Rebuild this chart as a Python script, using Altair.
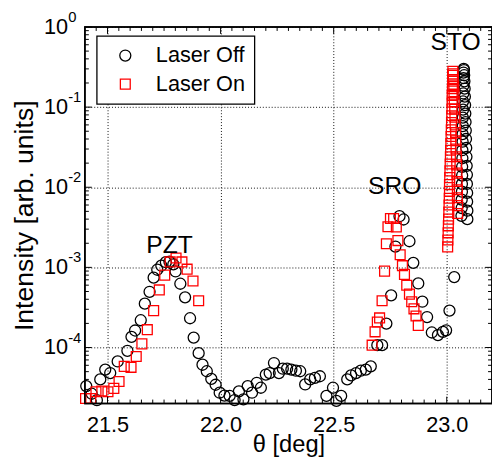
import altair as alt
import pandas as pd

FONT = "Liberation Sans"

# ---------------- data ----------------
off_theta = [21.406, 21.430, 21.453, 21.468, 21.490, 21.512, 21.545, 21.588, 21.606, 21.622,
             21.647, 21.665, 21.686, 21.704, 21.720, 21.738, 21.758, 21.774, 21.791, 21.801,
             21.822, 21.843, 21.865, 21.881, 21.903, 21.920, 21.939, 21.959, 21.978, 21.996,
             22.017, 22.040, 22.062, 22.081, 22.101, 22.120, 22.139, 22.160, 22.178, 22.200,
             22.217, 22.236, 22.258, 22.275, 22.294, 22.313, 22.333, 22.352, 22.374, 22.396,
             22.417, 22.439, 22.468, 22.497, 22.512, 22.533, 22.560, 22.577, 22.599, 22.620,
             22.642, 22.664, 22.693, 22.714, 22.733, 22.754, 22.773, 22.791, 22.809, 22.835,
             22.852, 22.874, 22.892, 22.913, 22.934, 22.961, 22.983, 22.997, 23.012, 23.033,
             23.065, 23.066, 23.066, 23.067, 23.067, 23.068, 23.068, 23.069, 23.069, 23.070,
             23.070, 23.071, 23.071, 23.072, 23.072, 23.073, 23.073, 23.074, 23.074, 23.075,
             23.076, 23.077, 23.078, 23.079, 23.080, 23.081, 23.082, 23.083, 23.084, 23.085,
             23.086, 23.087, 23.088, 23.089, 23.089, 23.090, 23.090, 23.091, 23.091]
off_int = [3.3e-5, 2.65e-5, 2.2e-5, 4.0e-5, 5.3e-5, 4.8e-5, 6.7e-5, 9.1e-5, 1.36e-4, 1.63e-4,
           2.19e-4, 3.53e-4, 4.96e-4, 7.45e-4, 9.35e-4, 1.05e-3, 1.16e-3, 1.18e-3, 1.09e-3, 8.9e-4,
           6.25e-4, 4.23e-4, 2.32e-4, 1.33e-4, 8.5e-5, 6.1e-5, 5.06e-5, 4.06e-5, 3.43e-5, 2.73e-5,
           2.51e-5, 2.49e-5, 2.21e-5, 2.84e-5, 2.26e-5, 3.3e-5, 2.73e-5, 3.63e-5, 3.15e-5, 4.59e-5,
           4.8e-5, 6.4e-5, 4.8e-5, 5.44e-5, 5.44e-5, 5.3e-5, 5.14e-5, 5.06e-5, 3.46e-5, 4.0e-5,
           4.18e-5, 4.38e-5, 2.49e-5, 3.15e-5, 2.16e-5, 2.49e-5, 4.0e-5, 4.49e-5, 4.8e-5, 5.14e-5,
           5.3e-5, 5.82e-5, 1.07e-4, 1.07e-4, 1.99e-4, 4.48e-4, 1.82e-3, 4.35e-3, 3.96e-3, 2.12e-3,
           1.14e-3, 6.3e-4, 3.73e-4, 2.40e-4, 1.54e-4, 1.43e-4, 1.57e-4, 1.64e-4, 2.89e-4, 7.57e-4,
           4.4e-3, 5.5e-3, 7.0e-3, 8.8e-3, 1.1e-2, 1.4e-2, 1.8e-2, 2.3e-2, 2.9e-2, 3.7e-2,
           4.6e-2, 5.8e-2, 7.4e-2, 9.3e-2, 0.118, 0.148, 0.185, 0.23, 0.27, 0.30,
           0.29, 0.25, 0.21, 0.17, 0.135, 0.106, 0.083, 0.065, 0.051, 0.040,
           0.031, 0.024, 0.0185, 0.0143, 0.0110, 0.0085, 0.0066, 0.0051, 0.0040]

on_theta = [21.403, 21.426, 21.449, 21.475, 21.502, 21.528, 21.551, 21.574, 21.604, 21.627,
            21.652, 21.676, 21.704, 21.729, 21.753, 21.777, 21.803, 21.829, 21.852, 21.878,
            21.903,
            22.670, 22.683, 22.693, 22.703, 22.714, 22.725, 22.733, 22.740, 22.751, 22.765,
            22.777, 22.784, 22.794, 22.804, 22.813, 22.823, 22.835, 22.845, 22.855, 22.864,
            22.874,
            23.004, 23.005, 23.006, 23.007, 23.008, 23.009, 23.010, 23.011, 23.012, 23.012,
            23.013, 23.014, 23.015, 23.016, 23.017, 23.018, 23.019, 23.020, 23.021, 23.022,
            23.023, 23.024, 23.024, 23.025, 23.026, 23.026, 23.027,
            23.028, 23.029, 23.031, 23.032, 23.033, 23.035, 23.036, 23.037, 23.039, 23.040,
            23.041, 23.043, 23.044, 23.045, 23.046, 23.047, 23.047, 23.048, 23.048]
on_int = [2.31e-5, 2.31e-5, 2.81e-5, 2.87e-5, 2.81e-5, 3.09e-5, 3.77e-5, 5.82e-5, 5.66e-5, 7.73e-5,
          1.11e-4, 1.67e-4, 2.89e-4, 5.23e-4, 8.0e-4, 1.17e-3, 1.31e-3, 1.17e-3, 9.5e-4, 6.76e-4,
          3.84e-4,
          1.07e-4, 1.57e-4, 2.08e-4, 2.34e-4, 3.84e-4, 8.98e-4, 1.97e-3, 3.21e-3, 4.07e-3, 4.07e-3,
          3.19e-3, 2.16e-3, 1.44e-3, 1.05e-3, 8.18e-4, 5.99e-4, 4.64e-4, 3.73e-4, 3.04e-4, 2.47e-4,
          1.89e-4,
          1.8e-3, 2.2e-3, 2.7e-3, 3.3e-3, 4.0e-3, 4.9e-3, 6.0e-3, 7.3e-3, 8.9e-3, 1.08e-2,
          1.32e-2, 1.6e-2, 1.95e-2, 2.4e-2, 2.9e-2, 3.5e-2, 4.3e-2, 5.2e-2, 6.4e-2, 7.8e-2,
          9.5e-2, 0.115, 0.14, 0.17, 0.21, 0.25, 0.28,
          0.26, 0.22, 0.18, 0.145, 0.117, 0.094, 0.075, 0.060, 0.048, 0.038,
          0.030, 0.024, 0.019, 0.015, 0.0118, 0.0093, 0.0074, 0.0059, 0.0047]

series_names = ["Laser Off", "Laser On"]

# axis ticks / labels
x_major = [21.5, 22.0, 22.5, 23.0]
x_minor = [v for v in [round(21.45 + 0.05 * i, 2) for i in range(35)] if v not in x_major]
y_major = [1e-4, 1e-3, 1e-2, 1e-1, 1.0]
y_exp = ["-4", "-3", "-2", "-1", "0"]
y_minor = [m * 10.0 ** e for e in range(-5, 0) for m in range(2, 10)]

# peak annotations
ann_label = ["PZT", "SRO", "STO"]
ann_theta = [21.774, 22.770, 23.039]
ann_int = [1.9e-3, 1.02e-2, 0.65]

# ---------------- chart ----------------
W, H = 413, 382
xs = alt.Scale(domain=[21.4, 23.2], nice=False, zero=False)
ys = alt.Scale(type="log", domain=[2e-5, 1.0], nice=False)

xaxis = alt.Axis(values=x_major, format=".1f", title="θ [deg]", grid=True,
                 ticks=False, domain=False, labelFontSize=22, labelPadding=11,
                 titleFontSize=24, titleY=54, titleBaseline="bottom", labelFlush=False)
yaxis = alt.Axis(values=y_major, labels=False, ticks=False, domain=False, grid=True,
                 title="Intensity [arb. units]", titleFontSize=27,
                 titleX=-61, titleY=H / 2, titleAngle=270,
                 titleAlign="center", titleBaseline="middle")

df = pd.DataFrame({
    "theta": off_theta + on_theta,
    "intensity": off_int + on_int,
    "series": [series_names[0]] * len(off_theta) + [series_names[1]] * len(on_theta),
})

# frame of the plot area
frame = alt.Chart(pd.DataFrame({"theta": [21.4]})).mark_rect(
    filled=False, stroke="black", strokeWidth=1.6, fill=None).encode(
    x=alt.value(0), x2=alt.value(W), y=alt.value(0), y2=alt.value(H))

grid_src = alt.Chart(pd.DataFrame({"theta": x_major[:1], "intensity": y_major[:1]})).mark_point(
    opacity=0).encode(
    x=alt.X("theta:Q", scale=xs, axis=xaxis),
    y=alt.Y("intensity:Q", scale=ys, axis=yaxis))

points = alt.Chart(df).mark_point(filled=False, strokeWidth=1.3, opacity=1).encode(
    x=alt.X("theta:Q", scale=xs, axis=xaxis),
    y=alt.Y("intensity:Q", scale=ys, axis=yaxis),
    color=alt.Color("series:N", scale=alt.Scale(domain=series_names, range=["black", "red"]),
                    legend=alt.Legend(title=None)),
    shape=alt.Shape("series:N", scale=alt.Scale(domain=series_names, range=["circle", "square"]),
                    legend=alt.Legend(title=None)),
    size=alt.Size("series:N", scale=alt.Scale(domain=series_names, range=[125, 100]),
                  legend=alt.Legend(title=None)),
)

def xtick_layer(vals, length, top):
    d = pd.DataFrame({"theta": vals})
    enc = dict(x=alt.X("theta:Q", scale=xs, axis=xaxis))
    if top:
        enc.update(y=alt.value(0), y2=alt.value(length))
    else:
        enc.update(y=alt.value(H), y2=alt.value(H - length))
    return alt.Chart(d).mark_rule(color="black", strokeWidth=1).encode(**enc)

def ytick_layer(vals, length, right):
    d = pd.DataFrame({"intensity": vals})
    enc = dict(y=alt.Y("intensity:Q", scale=ys, axis=yaxis))
    if right:
        enc.update(x=alt.value(W), x2=alt.value(W - length))
    else:
        enc.update(x=alt.value(0), x2=alt.value(length))
    return alt.Chart(d).mark_rule(color="black", strokeWidth=1).encode(**enc)

ticks = [
    xtick_layer(x_major, 7, False), xtick_layer(x_minor, 4, False),
    xtick_layer(x_major, 7, True), xtick_layer(x_minor, 4, True),
    ytick_layer(y_major, 7, False), ytick_layer(y_minor, 4, False),
    ytick_layer(y_major, 7, True), ytick_layer(y_minor, 4, True),
]

ylab_df = pd.DataFrame({"intensity": y_major, "exp": y_exp})
ylab10 = alt.Chart(ylab_df).mark_text(text="10", align="right", baseline="middle",
                                      fontSize=22, font=FONT, color="black").encode(
    y=alt.Y("intensity:Q", scale=ys, axis=yaxis), x=alt.value(-17))
ylabexp = alt.Chart(ylab_df).mark_text(align="left", baseline="middle", fontSize=15,
                                       font=FONT, color="black", dy=-10).encode(
    y=alt.Y("intensity:Q", scale=ys, axis=yaxis), x=alt.value(-17), text="exp:N")

ann_df = pd.DataFrame({"theta": ann_theta, "intensity": ann_int, "label": ann_label})
ann = alt.Chart(ann_df).mark_text(fontSize=25, font=FONT, color="black",
                                  align="center", baseline="middle").encode(
    x=alt.X("theta:Q", scale=xs, axis=xaxis),
    y=alt.Y("intensity:Q", scale=ys, axis=yaxis),
    text="label:N")

chart = alt.layer(grid_src, points, *ticks, ylab10, ylabexp, ann, frame).properties(
    width=W, height=H,
    padding={"left": 78, "top": 16, "right": 0, "bottom": 52},
    autosize=alt.AutoSizeParams(type="none"),
).configure_view(stroke="black", strokeWidth=1.5
).configure_axis(
    gridColor="#111111", gridDash=[1, 2], gridWidth=1, gridOpacity=1,
    labelFont=FONT, titleFont=FONT, labelColor="black", titleColor="black",
    titleFontWeight="normal",
).configure_legend(
    orient="none", legendX=12, legendY=9, strokeColor="black", strokeWidth=1.3,
    fillColor="white", padding=9, labelFontSize=22, labelFont=FONT, labelColor="black",
    labelOffset=20, rowPadding=7, symbolOffset=9, symbolStrokeWidth=1.3, cornerRadius=0,
)

chart.save("out.html", embed_options={"renderer": "svg", "actions": False})
